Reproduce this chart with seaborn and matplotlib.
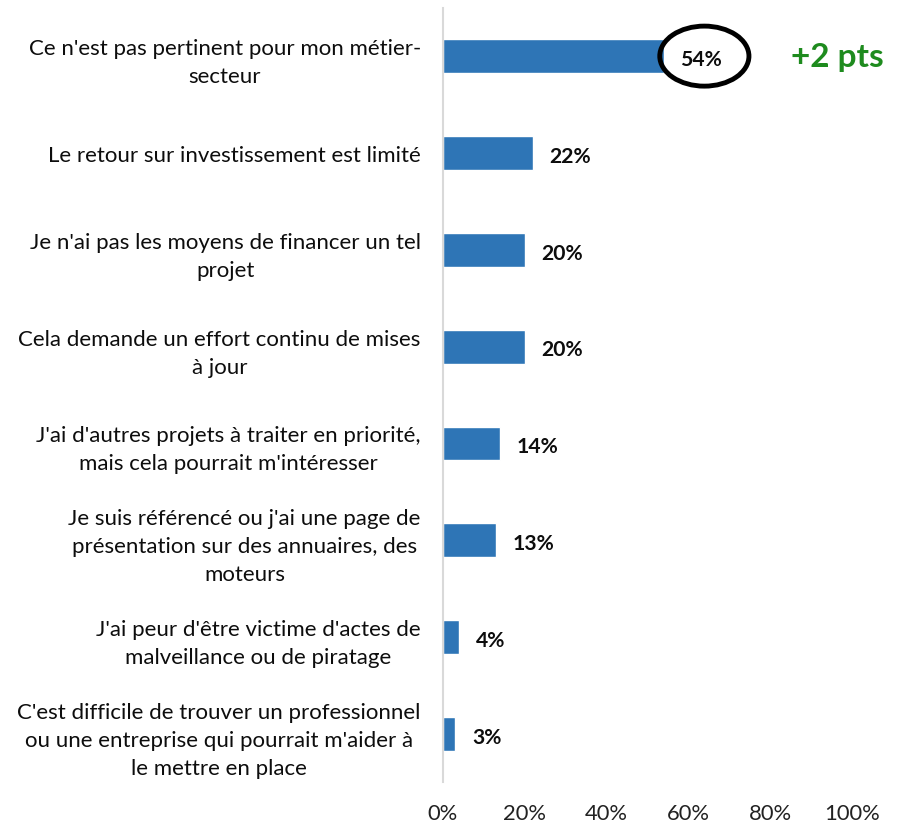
import numpy as np
import pandas as pd
import matplotlib
matplotlib.use("Agg")
import matplotlib.pyplot as plt
from matplotlib.patches import Ellipse
import seaborn as sns

# data
reasons = [
    "Ce n'est pas pertinent pour mon métier-\nsecteur",
    "Le retour sur investissement est limité",
    "Je n'ai pas les moyens de financer un tel\nprojet",
    "Cela demande un effort continu de mises\nà jour",
    "J'ai d'autres projets à traiter en priorité,\nmais cela pourrait m'intéresser",
    "Je suis référencé ou j'ai une page de\nprésentation sur des annuaires, des\nmoteurs",
    "J'ai peur d'être victime d'actes de\nmalveillance ou de piratage",
    "C'est difficile de trouver un professionnel\nou une entreprise qui pourrait m'aider à\nle mettre en place",
]
shares = [54, 22, 20, 20, 14, 13, 4, 3]
tick_values = [0, 20, 40, 60, 80, 100]
evolution_note = "+2 pts"

df = pd.DataFrame({"reason": reasons, "share": shares})

sns.set_theme(style="white")
plt.rcParams["font.family"] = ["Lato", "DejaVu Sans"]

fig = plt.figure(figsize=(8.98, 8.29), dpi=100)
ax = fig.add_axes([0.4933, 0.055, 0.4555, 0.9345])

sns.barplot(data=df, x="share", y="reason", color="#2E75B6", width=0.35,
            saturation=1, ax=ax)

ax.set_xlim(0, 100)
ax.set_xticks(tick_values)
ax.set_xticklabels([f"{v}%" for v in tick_values], fontsize=15.8, color="#222222")
ax.set_xlabel("")
ax.set_ylabel("")
ax.tick_params(axis="x", length=0, pad=15)
ax.tick_params(axis="y", length=0, pad=16)
for lbl in ax.get_yticklabels():
    lbl.set_fontsize(16)
    lbl.set_multialignment("center")
    lbl.set_linespacing(1.5)
    lbl.set_color("#0d0d0d")

for side in ["top", "right", "bottom"]:
    ax.spines[side].set_visible(False)
ax.spines["left"].set_color("#d9d9d9")
ax.spines["left"].set_linewidth(1.5)

# value labels
for i, v in enumerate(shares):
    ax.annotate(f"{v}%", xy=(v, i), xytext=(12, -2), textcoords="offset points",
                va="center", ha="left", fontsize=15.2, fontweight="bold", color="#0d0d0d")

# circle around the top value and the evolution note
ax.add_patch(Ellipse((63.9, 0), width=21.8, height=0.62, fill=False,
                     edgecolor="black", linewidth=3.5, clip_on=False))
ax.text(96.5, 0, evolution_note, va="center", ha="center", fontsize=24,
        fontweight="bold", color="#1E8B1E", clip_on=False)

fig.savefig("out.png", dpi=100)
